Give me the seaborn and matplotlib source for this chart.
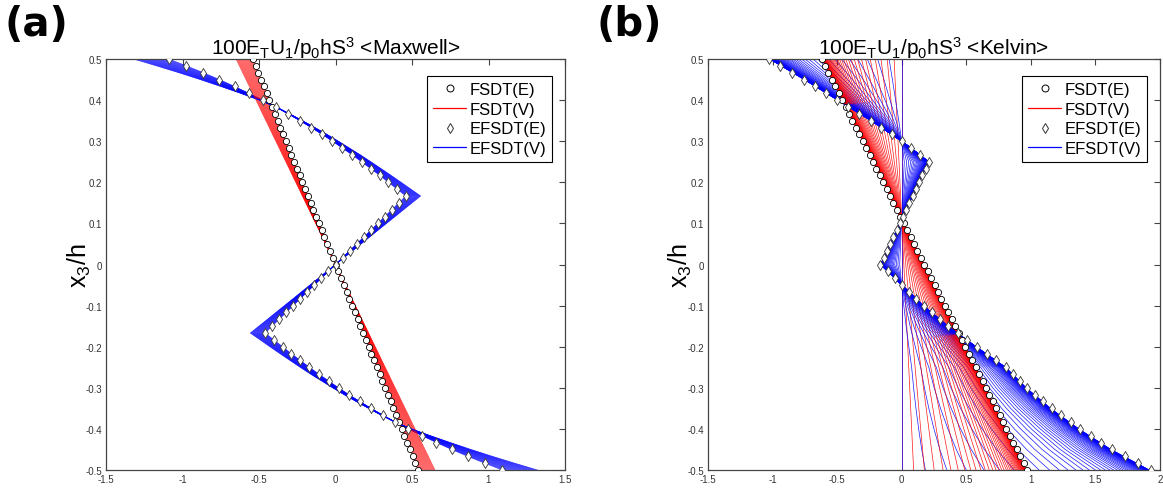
import numpy as np
import pandas as pd
import matplotlib
matplotlib.use("Agg")
import matplotlib.pyplot as plt
import seaborn as sns
from matplotlib.lines import Line2D
from matplotlib.ticker import FuncFormatter

# ---------------- data ----------------
z_grid = [0.5, 0.4833, 0.4667, 0.45, 0.4333, 0.4167, 0.4, 0.3833, 0.3667, 0.35,
          0.3333, 0.3167, 0.3, 0.2833, 0.2667, 0.25, 0.2333, 0.2167, 0.2, 0.1833,
          0.1667, 0.15, 0.1333, 0.1167, 0.1, 0.0833, 0.0667, 0.05, 0.0333, 0.0167,
          0.0, -0.0167, -0.0333, -0.05, -0.0667, -0.0833, -0.1, -0.1167, -0.1333, -0.15,
          -0.1667, -0.1833, -0.2, -0.2167, -0.2333, -0.25, -0.2667, -0.2833, -0.3, -0.3167,
          -0.3333, -0.35, -0.3667, -0.3833, -0.4, -0.4167, -0.4333, -0.45, -0.4667, -0.4833,
          -0.5]

# (a) Maxwell
maxwell_fsdt_e = [-0.540, -0.522, -0.504, -0.486, -0.468, -0.450, -0.432, -0.414, -0.396, -0.378,
                  -0.360, -0.342, -0.324, -0.306, -0.288, -0.270, -0.252, -0.234, -0.216, -0.198,
                  -0.180, -0.162, -0.144, -0.126, -0.108, -0.090, -0.072, -0.054, -0.036, -0.018,
                  0.0, 0.018, 0.036, 0.054, 0.072, 0.090, 0.108, 0.126, 0.144, 0.162,
                  0.180, 0.198, 0.216, 0.234, 0.252, 0.270, 0.288, 0.306, 0.324, 0.342,
                  0.360, 0.378, 0.396, 0.414, 0.432, 0.450, 0.468, 0.486, 0.504, 0.522, 0.540]
maxwell_fsdt_v_end = [-0.650, -0.628, -0.607, -0.585, -0.563, -0.542, -0.520, -0.498, -0.477, -0.455,
                      -0.433, -0.412, -0.390, -0.368, -0.347, -0.325, -0.303, -0.282, -0.260, -0.238,
                      -0.217, -0.195, -0.173, -0.152, -0.130, -0.108, -0.087, -0.065, -0.043, -0.022,
                      0.0, 0.022, 0.043, 0.065, 0.087, 0.108, 0.130, 0.152, 0.173, 0.195,
                      0.217, 0.238, 0.260, 0.282, 0.303, 0.325, 0.347, 0.368, 0.390, 0.412,
                      0.433, 0.455, 0.477, 0.498, 0.520, 0.542, 0.563, 0.585, 0.607, 0.628, 0.650]
maxwell_efsdt_e = [-1.090, -0.974, -0.864, -0.759, -0.660, -0.566, -0.476, -0.391, -0.310, -0.233,
                   -0.159, -0.088, -0.020, 0.045, 0.109, 0.170, 0.230, 0.289, 0.346, 0.403,
                   0.460, 0.414, 0.368, 0.322, 0.276, 0.230, 0.184, 0.138, 0.092, 0.046,
                   0.0, -0.046, -0.092, -0.138, -0.184, -0.230, -0.276, -0.322, -0.368, -0.414,
                   -0.460, -0.403, -0.346, -0.289, -0.230, -0.170, -0.109, -0.045, 0.020, 0.088,
                   0.159, 0.233, 0.310, 0.391, 0.476, 0.566, 0.660, 0.759, 0.864, 0.974, 1.090]
maxwell_efsdt_v_end = [-1.320, -1.170, -1.025, -0.885, -0.751, -0.622, -0.498, -0.388, -0.300, -0.216,
                       -0.135, -0.056, 0.019, 0.091, 0.163, 0.231, 0.298, 0.364, 0.429, 0.493,
                       0.557, 0.501, 0.445, 0.390, 0.334, 0.278, 0.223, 0.167, 0.111, 0.056,
                       0.0, -0.056, -0.111, -0.167, -0.223, -0.278, -0.334, -0.390, -0.445, -0.501,
                       -0.557, -0.493, -0.429, -0.364, -0.298, -0.231, -0.163, -0.091, -0.019, 0.056,
                       0.135, 0.216, 0.300, 0.388, 0.498, 0.622, 0.751, 0.885, 1.025, 1.170, 1.320]
maxwell_time_frac = [0.0, 0.05, 0.10, 0.15, 0.20, 0.25, 0.30, 0.35, 0.40, 0.45, 0.50,
                     0.55, 0.60, 0.65, 0.70, 0.75, 0.80, 0.85, 0.90, 0.95, 1.0]

# (b) Kelvin
kelvin_fsdt_e = [-0.620, -0.594, -0.567, -0.541, -0.514, -0.488, -0.461, -0.435, -0.408, -0.382,
                 -0.355, -0.329, -0.302, -0.276, -0.249, -0.223, -0.196, -0.170, -0.143, -0.117,
                 -0.090, -0.064, -0.037, -0.011, 0.016, 0.043, 0.069, 0.096, 0.122, 0.149,
                 0.175, 0.202, 0.228, 0.255, 0.281, 0.308, 0.334, 0.361, 0.387, 0.414,
                 0.440, 0.467, 0.493, 0.520, 0.546, 0.573, 0.599, 0.626, 0.652, 0.679,
                 0.705, 0.732, 0.758, 0.785, 0.811, 0.838, 0.864, 0.891, 0.917, 0.944, 0.970]
kelvin_efsdt_e = [-1.030, -0.940, -0.850, -0.760, -0.673, -0.587, -0.500, -0.413, -0.327, -0.240,
                  -0.159, -0.079, 0.000, 0.072, 0.142, 0.210, 0.185, 0.160, 0.135, 0.110,
                  0.085, 0.060, 0.035, 0.010, -0.015, -0.040, -0.065, -0.090, -0.115, -0.140,
                  -0.165, -0.110, -0.055, 0.000, 0.057, 0.113, 0.170, 0.233, 0.297, 0.360,
                  0.433, 0.507, 0.580, 0.657, 0.733, 0.810, 0.863, 0.917, 0.970, 1.033,
                  1.097, 1.160, 1.233, 1.307, 1.380, 1.463, 1.547, 1.630, 1.730, 1.830, 1.930]
kelvin_creep_frac = [0.0, 0.095, 0.181, 0.259, 0.330, 0.393, 0.451, 0.503, 0.551, 0.593,
                     0.632, 0.667, 0.699, 0.727, 0.753, 0.777, 0.798, 0.817, 0.835, 0.850,
                     0.865, 0.878, 0.889, 0.900, 0.909, 0.918, 0.926, 0.933, 0.939, 0.945,
                     0.950, 0.955, 0.959, 0.963, 0.967, 0.970, 0.973, 0.975, 0.978, 0.980,
                     0.982, 0.983, 0.985, 0.986, 0.988, 0.989, 0.990, 0.991, 0.992, 0.993, 0.993]

legend_labels = ["FSDT(E)", "FSDT(V)", "EFSDT(E)", "EFSDT(V)"]
titles = [r"100E$_\mathregular{T}$U$_\mathregular{1}$/p$_\mathregular{0}$hS$^\mathregular{3}$ <Maxwell>",
          r"100E$_\mathregular{T}$U$_\mathregular{1}$/p$_\mathregular{0}$hS$^\mathregular{3}$ <Kelvin>"]
panel_labels = ["(a)", "(b)"]
y_label = r"x$_\mathregular{3}$/h"
x_ticks_a = [-1.5, -1.0, -0.5, 0.0, 0.5, 1.0, 1.5]
x_ticks_b = [-1.5, -1.0, -0.5, 0.0, 0.5, 1.0, 1.5, 2.0]
y_ticks = [-0.5, -0.4, -0.3, -0.2, -0.1, 0.0, 0.1, 0.2, 0.3, 0.4, 0.5]

# ---------------- style ----------------
sns.set_theme(style="white")
plt.rcParams["font.family"] = ["Liberation Sans", "DejaVu Sans"]
plt.rcParams["text.color"] = "black"
plt.rcParams["axes.unicode_minus"] = False
plt.rcParams["mathtext.fontset"] = "custom"
plt.rcParams["mathtext.rm"] = "Liberation Sans"
plt.rcParams["mathtext.it"] = "Liberation Sans:italic"
plt.rcParams["mathtext.bf"] = "Liberation Sans:bold"

RED = "#ff0000"
BLUE = "#0000ff"
palette = {"FSDT(V)": RED, "EFSDT(V)": BLUE}

W, H = 1163, 489
fig = plt.figure(figsize=(W / 100, H / 100), dpi=100)
fig.patch.set_facecolor("white")

ax_a = fig.add_axes([106 / W, 1 - 471 / H, 459 / W, 411 / H])
ax_b = fig.add_axes([708 / W, 1 - 471 / H, 452 / W, 411 / H])

z = np.array(z_grid)


def draw_fan(ax, red_curves, blue_curves, lw):
    for r, b in zip(red_curves, blue_curves):
        df = pd.DataFrame({
            "x": np.concatenate([r, b]),
            "z": np.concatenate([z, z]),
            "model": ["FSDT(V)"] * len(z) + ["EFSDT(V)"] * len(z),
        })
        sns.lineplot(data=df, x="x", y="z", hue="model",
                     hue_order=["FSDT(V)", "EFSDT(V)"], palette=palette,
                     sort=False, estimator=None, linewidth=lw, alpha=0.9,
                     legend=False, ax=ax)


def draw_markers(ax, fsdt_e, efsdt_e):
    sns.scatterplot(x=fsdt_e, y=z, marker="o", s=20, color="white",
                    edgecolor="black", linewidth=0.6, zorder=5, legend=False, ax=ax)
    sns.scatterplot(x=efsdt_e, y=z, marker="d", s=26, color="white",
                    edgecolor="#333333", linewidth=0.6, zorder=5, legend=False, ax=ax)


# (a) Maxwell: elastic start + linear growth in time
fe, fv = np.array(maxwell_fsdt_e), np.array(maxwell_fsdt_v_end)
ee, ev = np.array(maxwell_efsdt_e), np.array(maxwell_efsdt_v_end)
draw_fan(ax_a,
         [fe + t * (fv - fe) for t in maxwell_time_frac],
         [ee + t * (ev - ee) for t in maxwell_time_frac], lw=0.4)
draw_markers(ax_a, fe, ee)

# (b) Kelvin: creep from zero toward the elastic profile
ke, kee = np.array(kelvin_fsdt_e), np.array(kelvin_efsdt_e)
draw_fan(ax_b,
         [c * ke for c in kelvin_creep_frac],
         [c * kee for c in kelvin_creep_frac], lw=0.5)
draw_markers(ax_b, ke, kee)

fmt = FuncFormatter(lambda v, p: f"{v:g}")
handles = [
    Line2D([], [], marker="o", ls="none", mfc="white", mec="black", ms=5, mew=0.7),
    Line2D([], [], color=RED, lw=0.9),
    Line2D([], [], marker="d", ls="none", mfc="white", mec="#333333", ms=5.5, mew=0.7),
    Line2D([], [], color=BLUE, lw=0.9),
]

for ax, xt, title, lab_x in [(ax_a, x_ticks_a, titles[0], -0.058),
                              (ax_b, x_ticks_b, titles[1], -0.062)]:
    ax.set_xlim(xt[0], xt[-1])
    ax.set_ylim(-0.5, 0.5)
    ax.set_xticks(xt)
    ax.set_yticks(y_ticks)
    ax.xaxis.set_major_formatter(fmt)
    ax.yaxis.set_major_formatter(fmt)
    ax.tick_params(direction="in", top=True, right=True, length=4, width=0.8,
                   labelsize=7, labelcolor="#333333", color="#444444", pad=3)
    for sp in ax.spines.values():
        sp.set_color("#444444")
        sp.set_linewidth(0.9)
    ax.set_xlabel("")
    ax.set_ylabel(y_label, fontsize=18, color="black")
    ax.yaxis.label.set_va("center")
    ax.yaxis.set_label_coords(lab_x, 0.5)
    ax.set_title(title, fontsize=15, pad=4, color="black")
    leg = ax.legend(handles, legend_labels, loc="upper right",
                    bbox_to_anchor=(0.972, 0.958), borderaxespad=0.0,
                    fontsize=12, frameon=True, fancybox=False, framealpha=1,
                    edgecolor="black", borderpad=0.35, labelspacing=0.28,
                    handlelength=2.0, handletextpad=0.2)
    leg.get_frame().set_linewidth(0.8)
    for t in leg.get_texts():
        t.set_color("black")

for xpos, lab in [(4, panel_labels[0]), (597, panel_labels[1])]:
    fig.text(xpos / W, 1 - 5 / H, lab, ha="left", va="top", fontsize=29,
             fontweight="bold", color="black", family=["DejaVu Sans"])

fig.savefig("out.png", dpi=100, facecolor="white")
